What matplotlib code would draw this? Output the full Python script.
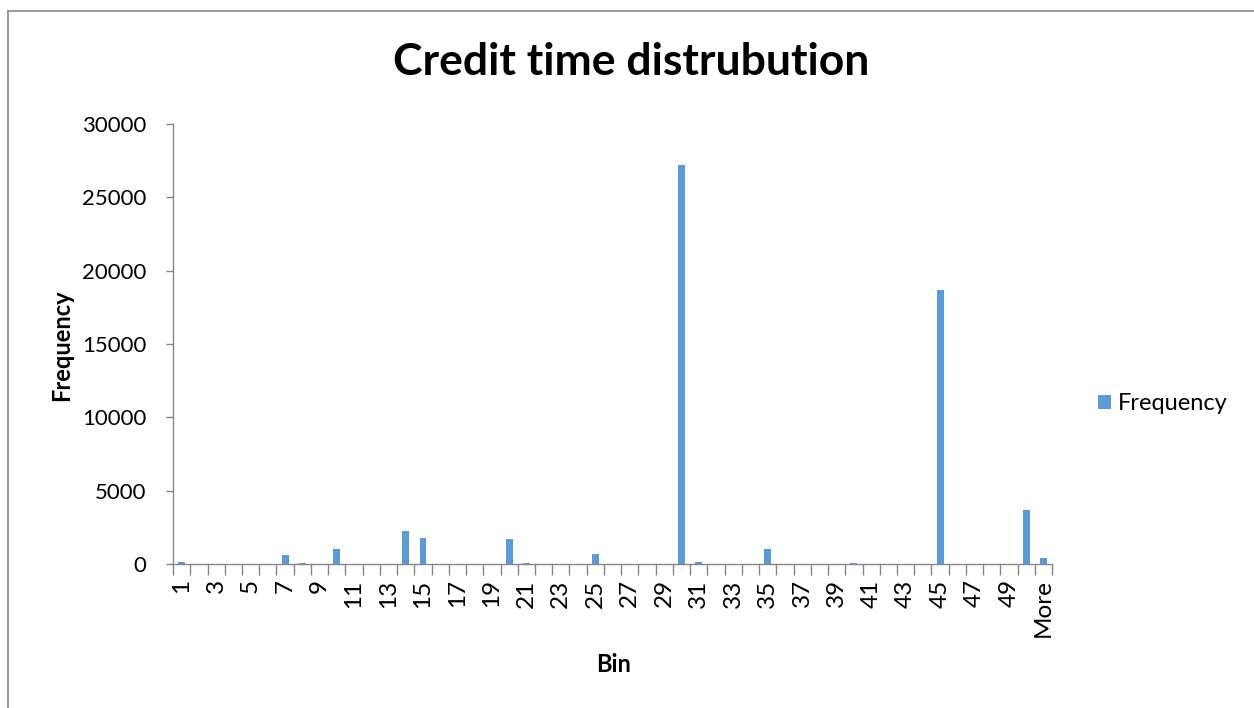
import matplotlib
matplotlib.use("Agg")
import matplotlib.pyplot as plt
from matplotlib.lines import Line2D

# Histogram bins (1..50 plus overflow) and counts
bins = [str(i) for i in range(1, 51)] + ["More"]
counts = [120, 0, 0, 0, 0, 0, 610, 60, 0, 1040,
          0, 0, 0, 2230, 1770, 0, 0, 0, 0, 1700,
          50, 0, 0, 0, 680, 0, 0, 0, 0, 27200,
          150, 0, 0, 0, 1040, 0, 30, 0, 0, 60,
          0, 0, 0, 0, 18700, 0, 0, 0, 0, 3700,
          390]
yticks = [0, 5000, 10000, 15000, 20000, 25000, 30000]

bar_color = "#5B9BD5"
axis_color = "#868686"
plt.rcParams['font.family'] = ['Lato', 'DejaVu Sans']

fig = plt.figure(figsize=(12.54, 7.08), dpi=100)
ax = fig.add_axes([0.138, 0.2034, 0.701, 0.6215])

x = list(range(len(bins)))
ax.bar(x, counts, width=0.4, color=bar_color, label="Frequency")

ax.set_xlim(-0.5, len(bins) - 0.5)
ax.set_ylim(0, 30000)
ax.set_yticks(yticks)
ax.set_yticklabels([str(v) for v in yticks], fontsize=16)

# every other bin gets a label, tick marks sit on the bin edges
ax.set_xticks(x[::2])
ax.set_xticklabels(bins[::2], rotation=90, fontsize=17.5)
ax.set_xticks([i - 0.5 for i in range(len(bins) + 1)], minor=True)
ax.tick_params(axis="x", which="major", length=0, pad=11)
ax.tick_params(axis="x", which="minor", length=8, width=1, color=axis_color, direction="out")
ax.tick_params(axis="y", length=5, width=1, color=axis_color, direction="out", pad=14)

for side in ["top", "right"]:
    ax.spines[side].set_visible(False)
for side in ["left", "bottom"]:
    ax.spines[side].set_color(axis_color)
    ax.spines[side].set_linewidth(1)

fig.text(0.503, 0.912, "Credit time distrubution", ha="center", va="center",
         fontsize=32, fontweight="bold")
fig.text(0.049, 0.513, "Frequency", rotation=90, ha="center", va="center",
         fontsize=17, fontweight="bold")
fig.text(0.489, 0.061, "Bin", ha="center", va="center",
         fontsize=17, fontweight="bold")

ax.legend(loc="center left", bbox_to_anchor=(0.8658, 0.4294), bbox_transform=fig.transFigure,
          frameon=False, fontsize=17, borderpad=0, handlelength=0.55, handleheight=0.55,
          handletextpad=0.3)

# chart area border (top and left edges)
fig.add_artist(Line2D([0.0064, 1.0], [0.9845, 0.9845], color=axis_color, lw=1.2,
                      transform=fig.transFigure))
fig.add_artist(Line2D([0.0064, 0.0064], [0.0, 0.9845], color=axis_color, lw=1.2,
                      transform=fig.transFigure))

fig.savefig("out.png", dpi=100)
